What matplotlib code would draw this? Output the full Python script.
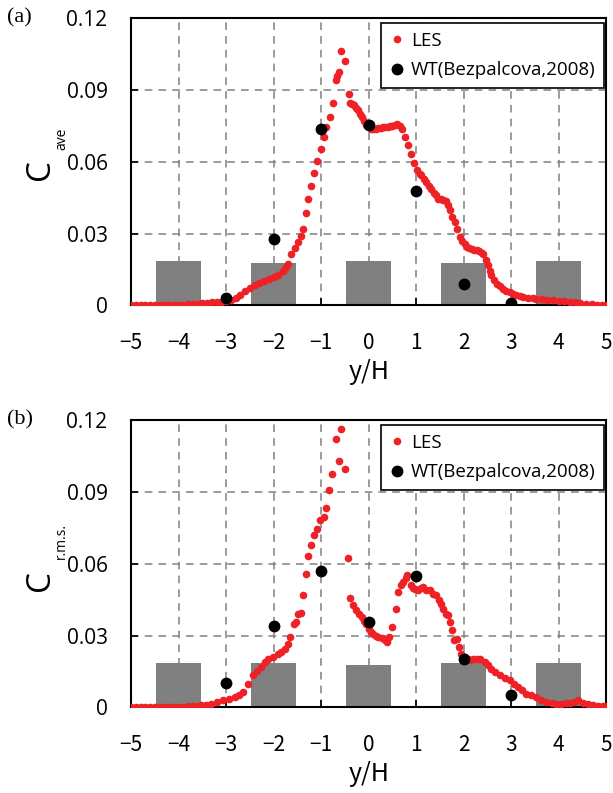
import matplotlib.pyplot as plt

# LES, panel (a): mean concentration
les_a_x = [-5.0, -4.9, -4.8, -4.7, -4.6, -4.5, -4.4, -4.3, -4.2, -4.1, -4.0, -3.9,
           -3.8, -3.7, -3.6, -3.5, -3.4, -3.3, -3.2, -3.1, -3.0, -2.9, -2.8, -2.7,
           -2.6, -2.5, -2.4, -2.3, -2.2, -2.1, -2.0, -1.9, -1.8, -1.75, -1.7, -1.63,
           -1.56, -1.49, -1.43, -1.38, -1.33, -1.28, -1.21, -1.15, -1.08, -1.0, -0.95,
           -0.89, -0.82, -0.75, -0.69, -0.66, -0.63, -0.575, -0.49, -0.42, -0.40,
           -0.36, -0.32, -0.27, -0.225, -0.18, -0.15, -0.10, -0.05, 0.0, 0.05, 0.1,
           0.15, 0.2, 0.25, 0.3, 0.35, 0.4, 0.45, 0.5, 0.55, 0.6, 0.65, 0.71, 0.76,
           0.83, 0.9, 0.95, 1.02, 1.07, 1.11, 1.16, 1.21, 1.27, 1.32, 1.37, 1.42,
           1.46, 1.52, 1.57, 1.62, 1.67, 1.71, 1.76, 1.81, 1.86, 1.92, 1.97, 2.02,
           2.06, 2.12, 2.17, 2.22, 2.27, 2.33, 2.38, 2.41, 2.46, 2.51, 2.55, 2.58,
           2.63, 2.69, 2.76, 2.83, 2.9, 2.97, 3.04, 3.1, 3.18, 3.25, 3.35, 3.45,
           3.53, 3.65, 3.75, 3.88, 4.0, 4.1, 4.23, 4.35, 4.45, 4.58, 4.7, 4.8, 4.9, 5.0]
les_a_y = [0.0003, 0.0003, 0.0003, 0.0003, 0.0003, 0.0003, 0.0003, 0.0003, 0.0003,
           0.0003, 0.0003, 0.0003, 0.0004, 0.0005, 0.0006, 0.0008, 0.001, 0.0012,
           0.0013, 0.0014, 0.0016, 0.0024, 0.0032, 0.0045, 0.006, 0.0073, 0.0085,
           0.0094, 0.0103, 0.011, 0.0117, 0.0127, 0.0145, 0.016, 0.0174, 0.0216,
           0.024, 0.0265, 0.029, 0.032, 0.0385, 0.0446, 0.050, 0.0553, 0.0603,
           0.0655, 0.0704, 0.0746, 0.0787, 0.0846, 0.0941, 0.096, 0.0975, 0.1063,
           0.102, 0.0885, 0.0846, 0.084, 0.0836, 0.0825, 0.0815, 0.080, 0.0787,
           0.077, 0.0753, 0.0745, 0.0738, 0.0735, 0.0738, 0.074, 0.0742, 0.0745,
           0.0746, 0.0747, 0.0748, 0.075, 0.0752, 0.0757, 0.0748, 0.0735, 0.0704,
           0.0669, 0.0631, 0.0595, 0.0564, 0.055, 0.0544, 0.053, 0.0516, 0.050,
           0.0488, 0.047, 0.046, 0.0446, 0.0443, 0.044, 0.0436, 0.042, 0.0397,
           0.037, 0.0348, 0.032, 0.0286, 0.027, 0.0255, 0.0244, 0.0238, 0.0234,
           0.0232, 0.023, 0.0225, 0.022, 0.0216, 0.019, 0.0167, 0.0145, 0.0125,
           0.0105, 0.009, 0.008, 0.007, 0.006, 0.0055, 0.0049, 0.0045, 0.0038,
           0.0035, 0.0032, 0.003, 0.0028, 0.0025, 0.0023, 0.0021, 0.0019, 0.0017,
           0.0014, 0.0012, 0.001, 0.0007, 0.0005, 0.0003, 0.0002, 0.0002]

# LES, panel (b): r.m.s. concentration
les_b_x = [-5.0, -4.9, -4.8, -4.7, -4.6, -4.5, -4.4, -4.3, -4.2, -4.1, -4.0, -3.9,
           -3.8, -3.7, -3.6, -3.52, -3.42, -3.31, -3.2, -3.07, -2.95, -2.82, -2.73,
           -2.65, -2.54, -2.44, -2.35, -2.26, -2.19, -2.12, -2.02, -1.91, -1.84,
           -1.77, -1.70, -1.65, -1.58, -1.53, -1.49, -1.43, -1.38, -1.33, -1.28,
           -1.21, -1.15, -1.08, -1.02, -0.94, -0.89, -0.84, -0.77, -0.69, -0.63,
           -0.575, -0.505, -0.435, -0.385, -0.33, -0.26, -0.20, -0.15, -0.10, -0.06,
           0.0, 0.05, 0.09, 0.15, 0.20, 0.27, 0.34, 0.38, 0.43, 0.50, 0.57, 0.62,
           0.67, 0.72, 0.78, 0.81, 0.88, 0.93, 0.97, 1.04, 1.09, 1.14, 1.21, 1.28,
           1.35, 1.41, 1.48, 1.53, 1.56, 1.62, 1.66, 1.72, 1.76, 1.80, 1.85, 1.89,
           1.95, 2.02, 2.08, 2.13, 2.2, 2.27, 2.34, 2.44, 2.51, 2.58, 2.66, 2.76,
           2.86, 2.97, 3.05, 3.14, 3.23, 3.32, 3.42, 3.53, 3.63, 3.74, 3.85, 3.95,
           4.05, 4.15, 4.23, 4.33, 4.41, 4.51, 4.62, 4.72, 4.82, 4.93, 5.0]
les_b_y = [0.0002, 0.0002, 0.0002, 0.0002, 0.0002, 0.0002, 0.0002, 0.0002, 0.0002,
           0.0002, 0.0002, 0.0003, 0.0004, 0.0005, 0.0006, 0.0008, 0.0011, 0.0015,
           0.0022, 0.0032, 0.0036, 0.0043, 0.0052, 0.0064, 0.0099, 0.0134, 0.015,
           0.0169, 0.019, 0.0204, 0.0212, 0.0224, 0.0232, 0.0245, 0.0266, 0.0294,
           0.035, 0.0357, 0.039, 0.0394, 0.0468, 0.0559, 0.0631, 0.0677, 0.0719,
           0.0747, 0.0782, 0.0795, 0.0835, 0.0907, 0.0974, 0.1123, 0.1028, 0.1165,
           0.0998, 0.0626, 0.0459, 0.0426, 0.0405, 0.039, 0.0377, 0.0363, 0.035,
           0.0329, 0.0315, 0.0308, 0.030, 0.0294, 0.0288, 0.028, 0.0273, 0.0294,
           0.0336, 0.041, 0.0482, 0.051, 0.0524, 0.0542, 0.0552, 0.051, 0.050,
           0.0496, 0.0489, 0.050, 0.0503, 0.0492, 0.0489, 0.0472, 0.0468, 0.0447,
           0.0434, 0.0413, 0.0392, 0.0385, 0.0357, 0.0322, 0.028, 0.0287, 0.0252,
           0.0224, 0.021, 0.0202, 0.0199, 0.0202, 0.0203, 0.0204, 0.019, 0.0178,
           0.0162, 0.0148, 0.0134, 0.0124, 0.0113, 0.0098, 0.0085, 0.0072, 0.0057,
           0.005, 0.0043, 0.0032, 0.0022, 0.0017, 0.0013, 0.0015, 0.0017, 0.0018,
           0.0024, 0.0029, 0.0018, 0.0013, 0.0008, 0.0006, 0.0004, 0.0004]

# wind tunnel data
wt_x = [-3, -2, -1, 0, 1, 2, 3]
wt_a = [0.003, 0.0276, 0.0736, 0.0753, 0.0478, 0.0089, 0.001]
wt_b = [0.010, 0.0339, 0.057, 0.0357, 0.0548, 0.0202, 0.005]

# buildings (gray blocks)
bld_x = [-4, -2, 0, 2, 4]
bld_h_a = [0.0185, 0.0177, 0.0185, 0.0177, 0.0185]
bld_h_b = [0.0184, 0.0184, 0.0176, 0.0184, 0.0184]

red = '#ee2127'
fig = plt.figure(figsize=(6.13, 7.93), dpi=100)
ax_a = fig.add_axes([0.214, 0.615, 0.775, 0.362])
ax_b = fig.add_axes([0.214, 0.108, 0.775, 0.362])

panels = [(ax_a, les_a_x, les_a_y, wt_a, bld_h_a, 'ave', '(a)', 0.474, 0.58),
          (ax_b, les_b_x, les_b_y, wt_b, bld_h_b, 'r.m.s.', '(b)', 0.443, 0.578)]

for ax, lx, ly, wy, bh, sub, tag, cy, sy in panels:
    ax.bar(bld_x, bh, width=0.95, color='#808080', zorder=1)
    ax.plot(lx, ly, 'o', color=red, markersize=5.5, markeredgewidth=0,
            label='LES', zorder=3)
    ax.plot(wt_x, wy, 'o', color='black', markersize=8.5, markeredgewidth=0,
            label='WT(Bezpalcova,2008)', zorder=4)
    ax.set_xlim(-5, 5)
    ax.set_ylim(0, 0.12)
    ax.set_xticks(range(-5, 6))
    ax.set_yticks([0, 0.03, 0.06, 0.09, 0.12])
    ax.set_xticklabels(['\u22125', '\u22124', '\u22123', '\u22122', '\u22121',
                        '0', '1', '2', '3', '4', '5'],
                       family=['Noto Sans CJK JP', 'DejaVu Sans'])
    ax.set_yticklabels(['0', '0.03', '0.06', '0.09', '0.12'], family='Open Sans')
    ax.tick_params(direction='in', labelsize=15, length=5, width=1.2, pad=17)
    ax.tick_params(axis='x', pad=19)
    ax.grid(True, linestyle=(0, (5, 4)), color='#808080', linewidth=1.1)
    ax.set_axisbelow(True)
    for s in ax.spines.values():
        s.set_linewidth(1.5)
    ax.set_xlabel('y/H', fontsize=18, family='Noto Sans CJK JP', labelpad=4)
    # y label: big C with small subscript
    ax.text(-0.19, cy, 'C', fontsize=24, family='Open Sans', rotation=90,
            ha='center', va='center', transform=ax.transAxes)
    ax.text(-0.146, sy, sub, fontsize=10, family='Open Sans', rotation=90,
            ha='center', va='center', transform=ax.transAxes)
    leg = ax.legend(loc='upper right', bbox_to_anchor=(0.996, 0.982),
                    frameon=True, fancybox=False, edgecolor='black',
                    framealpha=1, handlelength=0.8, handletextpad=0.35,
                    borderaxespad=0, labelspacing=0.6, borderpad=0.45,
                    prop={'family': 'Open Sans', 'size': 13.5})
    leg.get_frame().set_linewidth(1.2)
    fig.text(0.012, ax.get_position().y1, tag, fontsize=16,
             family='Liberation Serif', va='center')

fig.savefig('out.png', dpi=100)
